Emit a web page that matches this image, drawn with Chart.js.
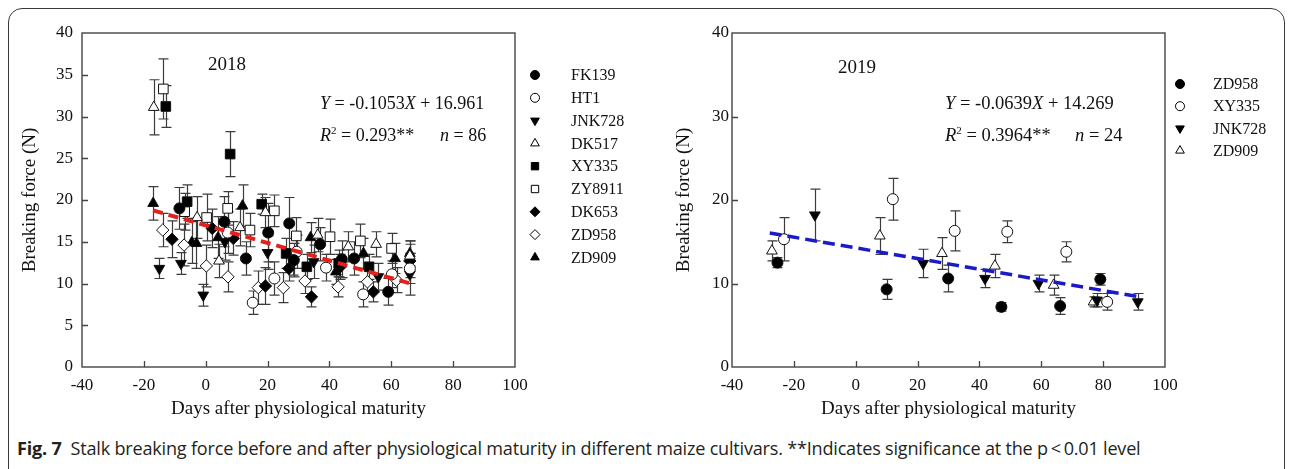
<!DOCTYPE html>
<html><head><meta charset="utf-8">
<script src="https://cdn.jsdelivr.net/npm/chart.js@4.4.1/dist/chart.umd.min.js"></script>
<style>
html,body{margin:0;padding:0;background:#fff;}
#wrap{position:relative;width:1292px;height:469px;overflow:hidden;background:#fff;}
#frame{position:absolute;left:8px;top:8px;width:1277px;height:520px;border:1.5px solid #3a3a3a;border-radius:14px;box-sizing:border-box;}
#c1{position:absolute;left:0;top:0;}
#c2{position:absolute;left:650px;top:0;}
#cap{position:absolute;left:17px;top:437px;font-family:"Open Sans",Roboto,sans-serif;font-size:15px;color:#231f20;white-space:nowrap;letter-spacing:-0.2px;}
#cap b{font-weight:700;}
</style></head>
<body><div id="wrap"><div id="frame"></div>
<canvas id="c1" width="660" height="430"></canvas>
<canvas id="c2" width="642" height="430"></canvas>
<div id="cap"><b>Fig. 7</b>&nbsp; Stalk breaking force before and after physiological maturity in different maize cultivars. **Indicates significance at the p&thinsp;&lt;&thinsp;0.01 level</div>
</div>
<script>
// ---------------- DATA ----------------
const xTickValues = [-40, -20, 0, 20, 40, 60, 80, 100];
const xAxisTitle = 'Days after physiological maturity';
const yAxisTitle = 'Breaking force (N)';

// 2018
const cultivars2018 = ['FK139', 'HT1', 'JNK728', 'DK517', 'XY335', 'ZY8911', 'DK653', 'ZD958', 'ZD909'];
const FK139_days = [-8.5, 6, 13, 20.2, 27, 28.5, 37, 44, 48, 59];
const FK139_force = [19.0, 17.4, 13.0, 16.1, 17.2, 12.8, 14.7, 12.9, 13.0, 9.0];
const FK139_err = [2.5, 3.0, 2.0, 3.5, 3.1, 2.0, 2.0, 2.2, 2.0, 1.6];
const HT1_days = [7.1, 15.2, 22.2, 29.4, 38.9, 50.9, 60.2, 66];
const HT1_force = [16.1, 7.7, 10.6, 13.8, 11.9, 8.7, 11.1, 11.8];
const HT1_err = [2.5, 1.4, 2.0, 2.0, 1.6, 1.5, 1.6, 1.8];
const JNK728_days = [-15, -8, -0.8, 6.2, 20, 28.3, 34.9, 55.8, 66];
const JNK728_force = [11.8, 12.4, 8.6, 15.0, 13.7, 12.5, 12.6, 10.8, 11.1];
const JNK728_err = [1.2, 1.3, 1.3, 2.2, 2.0, 1.5, 2.0, 1.6, 2.5];
const DK517_days = [-16.8, -2.8, 4.3, 11.1, 19.3, 36.2, 46.1, 55.1, 66];
const DK517_force = [31.1, 17.9, 12.7, 16.7, 18.5, 15.8, 14.4, 14.7, 13.3];
const DK517_err = [3.3, 2.5, 2.0, 2.2, 1.8, 2.0, 1.8, 1.5, 1.8];
const XY335_days = [-12.9, -6, 7.9, 18.1, 26, 32.7, 43, 52.8];
const XY335_force = [31.2, 19.8, 25.5, 19.5, 13.6, 12.0, 12.4, 12.0];
const XY335_err = [2.5, 2.0, 2.7, 1.2, 1.8, 1.5, 1.6, 1.5];
const ZY8911_days = [-13.7, -6.8, 0.3, 7.1, 14.3, 22.2, 29.3, 40.2, 50, 60.1];
const ZY8911_force = [33.3, 18.6, 17.9, 19.0, 16.4, 18.7, 15.7, 15.6, 15.1, 14.2];
const ZY8911_err = [3.6, 2.2, 2.8, 2.0, 2.0, 1.9, 2.2, 2.1, 2.0, 1.8];
const DK653_days = [-10.9, 2.1, 8.9, 19.3, 26.9, 34.2, 43.5, 54.2, 66];
const DK653_force = [15.3, 16.6, 15.4, 9.7, 11.8, 8.4, 12.0, 9.0, 12.7];
const DK653_err = [2.2, 2.3, 2.0, 2.2, 1.5, 1.2, 1.5, 1.2, 2.0];
const ZD958_days = [-13.9, -7, 0.2, 7.2, 17, 25.1, 32.1, 42.8, 52.3, 61.7];
const ZD958_force = [16.4, 14.6, 12.1, 10.8, 9.5, 9.5, 10.3, 9.6, 10.2, 10.4];
const ZD958_err = [2.0, 2.5, 2.5, 1.8, 2.0, 1.8, 1.5, 1.2, 1.5, 1.5];
const ZD909_days = [-17, -4.5, -3, 4, 11.9, 33.9, 42.1, 51, 61.2, 66];
const ZD909_force = [19.6, 14.9, 14.8, 15.5, 19.3, 15.5, 11.4, 13.6, 13.0, 13.6];
const ZD909_err = [2.0, 2.5, 3.0, 2.5, 2.5, 1.8, 1.5, 1.8, 1.8, 1.5];
const fit2018 = [-0.1053, 16.961];      // slope, intercept
const fitRange2018 = [-17, 66];
const stats2018 = ['0.293**', '86'];    // R2, n

// 2019
const cultivars2019 = ['ZD958', 'XY335', 'JNK728', 'ZD909'];
const ZD958b_days = [-25.3, 10, 29.9, 47.1, 66.1, 79.1];
const ZD958b_force = [12.5, 9.3, 10.6, 7.2, 7.3, 10.5];
const ZD958b_err = [0.6, 1.2, 1.6, 0.5, 1.0, 0.7];
const XY335b_days = [-23.2, 12, 32, 49, 68.1, 81.3];
const XY335b_force = [15.3, 20.1, 16.3, 16.2, 13.8, 7.8];
const XY335b_err = [2.6, 2.5, 2.4, 1.3, 1.2, 1.0];
const JNK728b_days = [-13.2, 21.8, 41.8, 59.1, 78, 91.2];
const JNK728b_force = [18.2, 12.4, 10.6, 10.0, 8.0, 7.8];
const JNK728b_err = [3.1, 1.7, 1.1, 1.0, 0.8, 1.0];
const ZD909b_days = [-27.1, 7.8, 27.9, 45, 64, 76.9];
const ZD909b_force = [13.9, 15.7, 13.6, 12.1, 9.8, 7.8];
const ZD909b_err = [1.2, 2.2, 1.9, 1.4, 1.2, 0.6];
const fit2019 = [-0.0639, 14.269];
const fitRange2019 = [-27.8, 91.2];
const stats2019 = ['0.3964**', '24'];

// ---------------- STYLES ----------------
const SERIF = '"Liberation Serif","Times New Roman",serif';
const markers2018 = [
  {ps:'circle', fill:true}, {ps:'circle', fill:false}, {ps:'triangle', rot:180, fill:true},
  {ps:'triangle', fill:false}, {ps:'rect', fill:true}, {ps:'rect', fill:false},
  {ps:'rectRot', fill:true}, {ps:'rectRot', fill:false}, {ps:'triangle', fill:true}
];
const markers2019 = [
  {ps:'circle', fill:true}, {ps:'circle', fill:false}, {ps:'triangle', rot:180, fill:true}, {ps:'triangle', fill:false}
];
const radiusFor = {circle:5.5, rect:6.8, triangle:6.2, rectRot:6.2};
const legendRadius = {circle:4.5, rect:5.2, triangle:5, rectRot:5};

function pts(xs, ys){ return xs.map((x,i)=>({x:x, y:ys[i]})); }
function mkDs(label, xs, ys, errs, m){
  return {
    type:'scatter', label:label, data:pts(xs, ys), errs:errs,
    pointStyle:m.ps, rotation:m.rot||0, radius:radiusFor[m.ps], pointRadius:radiusFor[m.ps],
    pointRotation:m.rot||0,
    backgroundColor: m.fill ? '#000' : '#fff', borderColor:'#000', borderWidth:1,
    pointBackgroundColor: m.fill ? '#000' : '#fff', pointBorderColor:'#111', pointBorderWidth:1,
    pointHoverRadius:radiusFor[m.ps], order:1
  };
}
function fitDs(fit, range, color, width, dash){
  return {
    type:'line', label:'fit', data: range.map(x=>({x:x, y:fit[0]*x+fit[1]})),
    borderColor:color, borderWidth:width, borderDash:dash, pointRadius:0, fill:false, order:0,
    borderCapStyle:'butt'
  };
}

// ---------------- PLUGINS ----------------
const boxPlugin = {
  id:'boxTicks',
  beforeDatasetsDraw(chart){
    const {ctx, chartArea:a, scales} = chart;
    ctx.save();
    ctx.strokeStyle = '#444'; ctx.lineWidth = 1.4;
    ctx.strokeRect(a.left, a.top, a.right-a.left, a.bottom-a.top);
    ctx.lineWidth = 1.3;
    ctx.beginPath();
    scales.x.ticks.forEach(t=>{
      if (t.value <= scales.x.min || t.value >= scales.x.max) return;
      const px = Math.round(scales.x.getPixelForValue(t.value)) + 0.5;
      ctx.moveTo(px, a.bottom); ctx.lineTo(px, a.bottom - 6);
    });
    scales.y.ticks.forEach(t=>{
      if (t.value <= scales.y.min || t.value >= scales.y.max) return;
      const py = Math.round(scales.y.getPixelForValue(t.value)) + 0.5;
      ctx.moveTo(a.left, py); ctx.lineTo(a.left + 6, py);
    });
    ctx.stroke();
    // error bars
    ctx.strokeStyle = '#3c3c3c'; ctx.lineWidth = 1.2;
    chart.data.datasets.forEach((ds, i)=>{
      if (!ds.errs) return;
      const meta = chart.getDatasetMeta(i);
      meta.data.forEach((el, j)=>{
        const v = ds.data[j].y, e = ds.errs[j];
        const x = Math.round(el.x) + 0.5;
        const y1 = scales.y.getPixelForValue(v + e), y2 = scales.y.getPixelForValue(v - e);
        ctx.beginPath();
        ctx.moveTo(x, y1); ctx.lineTo(x, y2);
        ctx.moveTo(x-5, y1); ctx.lineTo(x+5, y1);
        ctx.moveTo(x-5, y2); ctx.lineTo(x+5, y2);
        ctx.stroke();
      });
    });
    ctx.restore();
  }
};

function rich(ctx, x, y, parts, size){
  let cx = x;
  parts.forEach(p=>{
    const fs = p.sup ? Math.round(size*0.62) : size;
    ctx.font = (p.i ? 'italic ' : '') + fs + 'px ' + SERIF;
    const dy = p.sup ? -size*0.4 : 0;
    ctx.fillText(p.t, cx, y + dy);
    cx += ctx.measureText(p.t).width;
  });
}

function drawMarker(ctx, m, r, x, y){
  ctx.fillStyle = m.fill ? '#000' : '#fff';
  ctx.strokeStyle = '#000';
  ctx.lineWidth = 1;
  Chart.helpers.drawPoint(ctx, {pointStyle:m.ps, radius:r, rotation:m.rot||0, borderWidth:1}, x, y);
}

function annotPlugin(cfg){
  return {
    id:'annot',
    afterDraw(chart){
      const ctx = chart.ctx;
      ctx.save();
      ctx.fillStyle = '#111';
      ctx.textBaseline = 'alphabetic';
      ctx.textAlign = 'center';
      ctx.font = '19px ' + SERIF;
      ctx.fillText(cfg.year, cfg.yearX, cfg.yearY);
      ctx.textAlign = 'left';
      const f = cfg.fit;
      rich(ctx, cfg.eqX, cfg.eqY, [
        {t:'Y', i:1}, {t:' = ' + (f[0] < 0 ? '-' : '') + Math.abs(f[0]).toFixed(4)}, {t:'X', i:1},
        {t:' + ' + f[1].toFixed(3)}], cfg.eqSize);
      rich(ctx, cfg.eqX, cfg.r2Y, [{t:'R', i:1}, {t:'2', sup:1}, {t:' = ' + cfg.stats[0]}], cfg.eqSize);
      rich(ctx, cfg.nX, cfg.r2Y, [{t:'n', i:1}, {t:' = ' + cfg.stats[1]}], cfg.eqSize);
      // legend
      cfg.names.forEach((name, i)=>{
        const y = cfg.legY + i*cfg.legDY;
        const m = cfg.markers[i];
        drawMarker(ctx, m, legendRadius[m.ps], cfg.legMX, y);
        ctx.fillStyle = '#111';
        ctx.font = '16px ' + SERIF;
        ctx.textBaseline = 'middle';
        ctx.fillText(name, cfg.legTX, y + 1);
        ctx.textBaseline = 'alphabetic';
      });
      ctx.restore();
    }
  };
}

function scalesCfg(yStep, yPad, titlePad){
  return {
    x: {
      type:'linear', min:-40, max:100,
      afterBuildTicks(s){ s.ticks = xTickValues.map(v=>({value:v})); },
      grid:{display:false, drawTicks:false}, border:{display:false},
      ticks:{color:'#111', font:{family:SERIF, size:17}, padding:8, maxRotation:0, autoSkip:false},
      title:{display:true, text:xAxisTitle, color:'#111', font:{family:SERIF, size:19}, padding:{top:0, bottom:10}},
      afterFit(s){ s.height = 63; }
    },
    y: {
      type:'linear', min:0, max:40,
      ticks:{stepSize:yStep, color:'#111', font:{family:SERIF, size:17}, padding:yPad},
      grid:{display:false, drawTicks:false}, border:{display:false},
      title:{display:true, text:yAxisTitle, color:'#111', font:{family:SERIF, size:19}, padding:{top:titlePad, bottom:0}},
      afterFit(s){ s.width = 82; }
    }
  };
}

function baseOptions(padRight, yStep, yPad, titlePad){
  return {
    responsive:false, animation:false, devicePixelRatio:1,
    layout:{padding:{left:0, top:33, right:padRight, bottom:0}},
    plugins:{legend:{display:false}, tooltip:{enabled:false}},
    scales: scalesCfg(yStep, yPad, titlePad)
  };
}

// ---------------- CHART 2018 ----------------
const series2018 = [
  [FK139_days, FK139_force, FK139_err], [HT1_days, HT1_force, HT1_err], [JNK728_days, JNK728_force, JNK728_err],
  [DK517_days, DK517_force, DK517_err], [XY335_days, XY335_force, XY335_err], [ZY8911_days, ZY8911_force, ZY8911_err],
  [DK653_days, DK653_force, DK653_err], [ZD958_days, ZD958_force, ZD958_err], [ZD909_days, ZD909_force, ZD909_err]
];
const ds2018 = [fitDs(fit2018, fitRange2018, '#e3201b', 4, [10, 6])]
  .concat(series2018.map((s, i)=>mkDs(cultivars2018[i], s[0], s[1], s[2], markers2018[i])));

new Chart(document.getElementById('c1'), {
  type:'scatter',
  data:{datasets:ds2018},
  options: baseOptions(145, 5, 9, 19),
  plugins:[boxPlugin, annotPlugin({
    year:'2018', yearX:227, yearY:70, fit:fit2018, stats:stats2018, eqSize:18,
    eqX:320, eqY:109, r2Y:141, nX:440,
    names:cultivars2018, markers:markers2018, legMX:535, legTX:571, legY:75, legDY:22.8
  })]
});

// ---------------- CHART 2019 ----------------
const series2019 = [
  [ZD958b_days, ZD958b_force, ZD958b_err], [XY335b_days, XY335b_force, XY335b_err],
  [JNK728b_days, JNK728b_force, JNK728b_err], [ZD909b_days, ZD909b_force, ZD909b_err]
];
const ds2019 = [fitDs(fit2019, fitRange2019, '#1a1ac8', 3.5, [12, 6])]
  .concat(series2019.map((s, i)=>mkDs(cultivars2019[i], s[0], s[1], s[2], markers2019[i])));

new Chart(document.getElementById('c2'), {
  type:'scatter',
  data:{datasets:ds2019},
  options: baseOptions(127, 10, 3, 23),
  plugins:[boxPlugin, annotPlugin({
    year:'2019', yearX:207, yearY:73, fit:fit2019, stats:stats2019, eqSize:18.5,
    eqX:295, eqY:109, r2Y:141, nX:425,
    names:cultivars2019, markers:markers2019, legMX:530, legTX:563, legY:84, legDY:22.2
  })]
});

// fit caption width to the reference
(function(){
  const cap = document.getElementById('cap');
  const target = 1123;
  let fs = 15;
  for (let k = 0; k < 3; k++) {
    const w = cap.getBoundingClientRect().width;
    fs = fs * target / w;
    cap.style.fontSize = fs.toFixed(2) + 'px';
  }
  cap.style.top = (448 - cap.getBoundingClientRect().height/2) + 'px';
})();
</script>
</body></html>
